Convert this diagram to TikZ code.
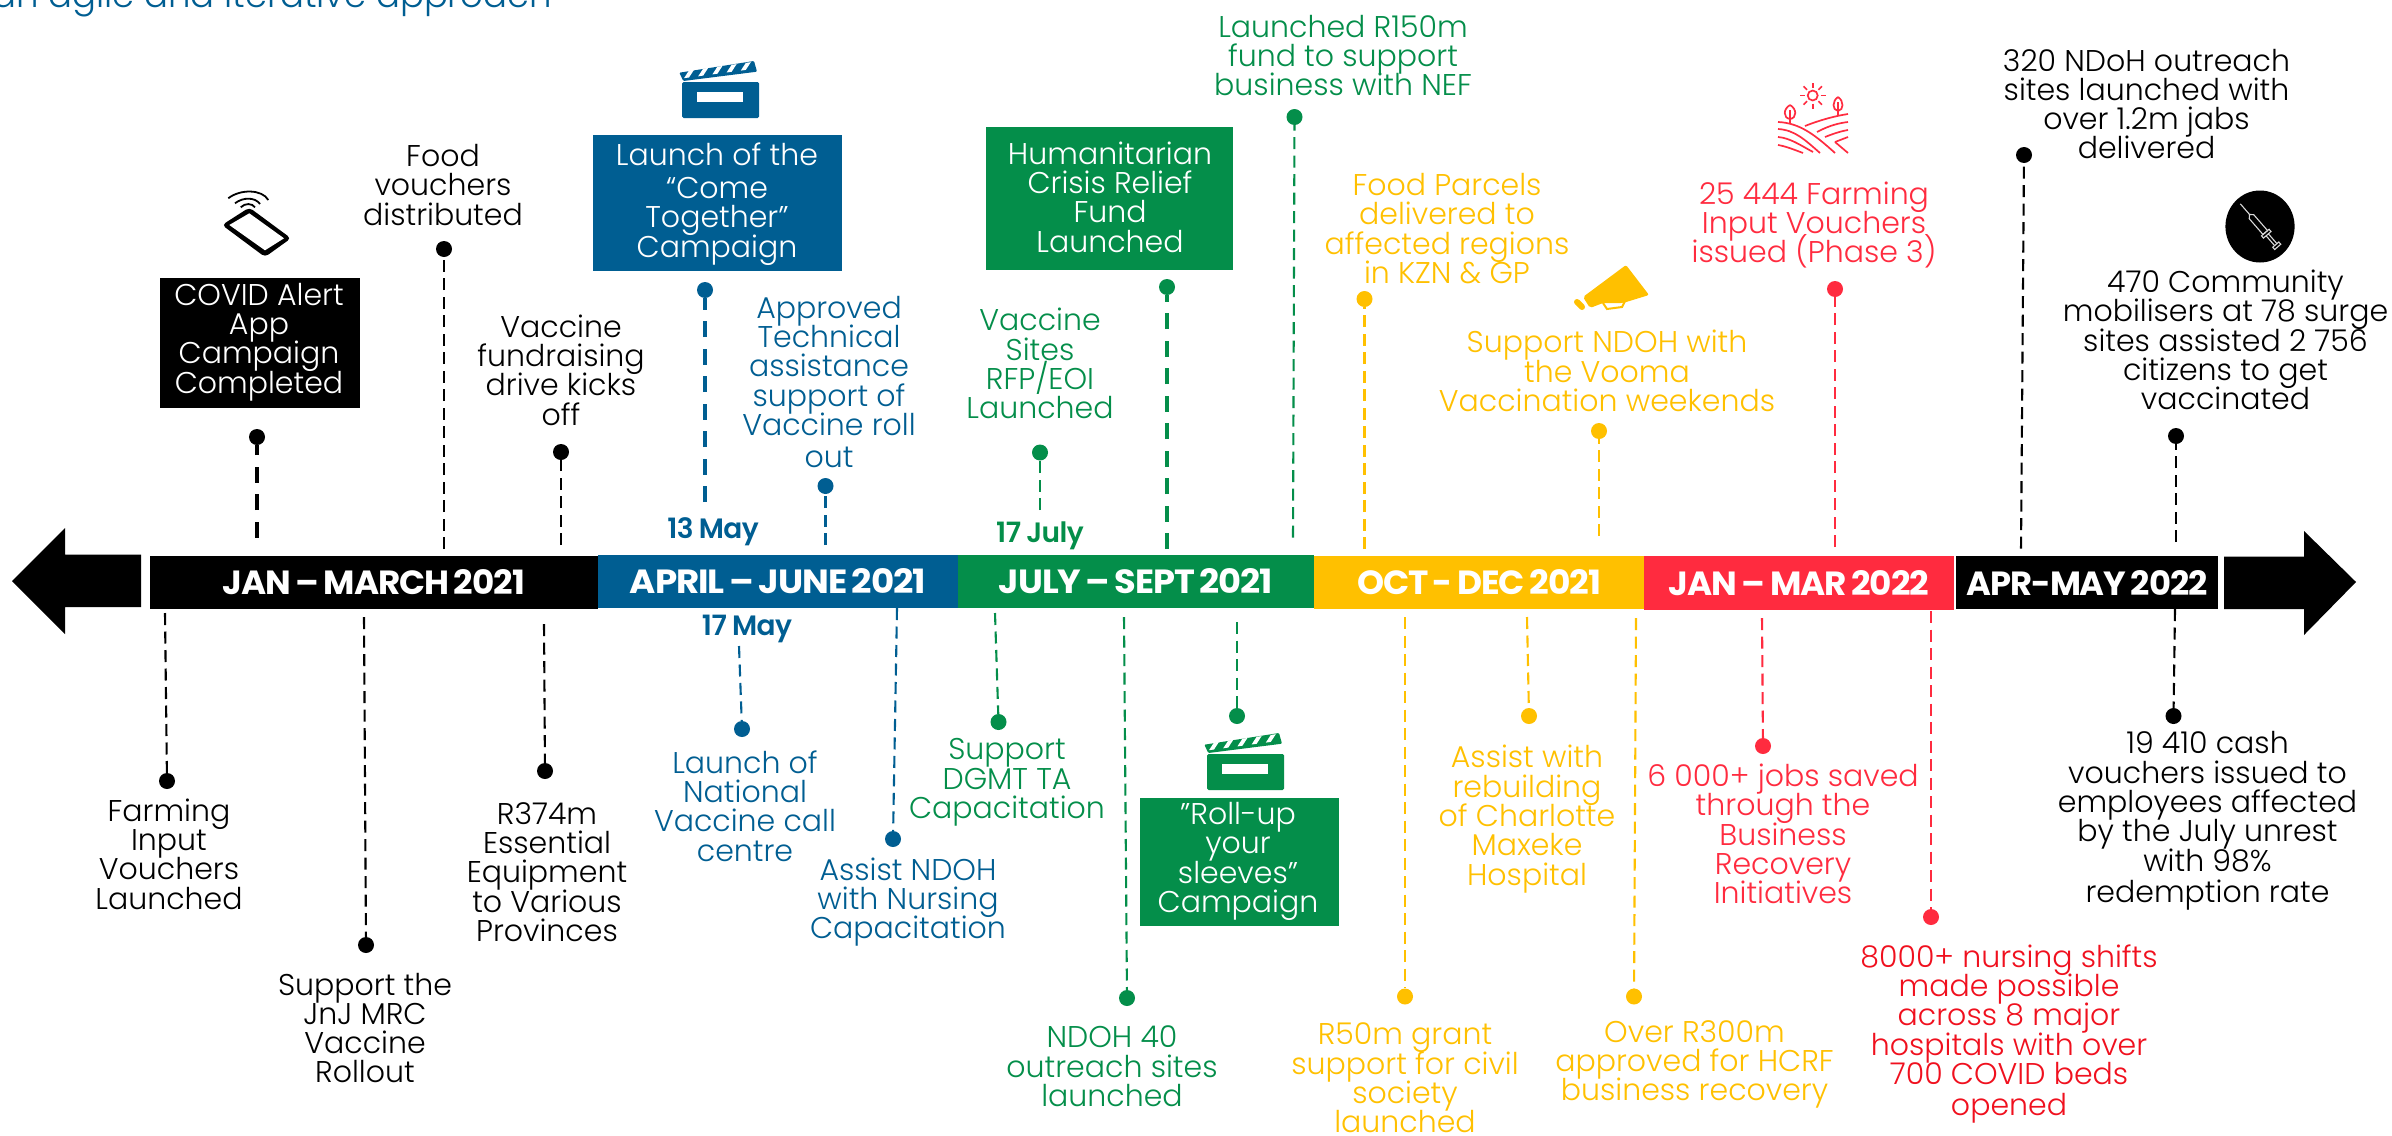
\documentclass[tikz,border=0pt]{standalone}
\usepackage{graphicx}
\usepackage{fontspec}
\setmainfont{Poppins}[UprightFont=* Light,BoldFont=* Bold]
\newfontfamily\barfont{Poppins}[UprightFont=* Bold,WordSpace=0.7,LetterSpace=-3]
\newfontfamily\datefont{Poppins}[UprightFont=* SemiBold,WordSpace=0.85,LetterSpace=-2]
\definecolor{cblue}{HTML}{005E92}
\definecolor{cgreen}{HTML}{048E4A}
\definecolor{cyellow}{HTML}{FFC000}
\definecolor{cred}{HTML}{FF2B3F}
\definecolor{cpure}{HTML}{F0101E}
\normallineskiplimit=-30pt
\lineskiplimit=-30pt
\tikzset{
  lbl/.style={align=center,inner sep=0pt,font=\fontsize{30}{29.3}\selectfont},
  boxlbl/.style={lbl,text=white},
  panel/.style={draw=none,inner sep=0pt},
  seg/.style={draw=none,inner sep=0pt,text=white,minimum height=53pt},
  pindot/.style={circle,inner sep=0pt,minimum size=16pt},
  pinthin/.style={line width=2.1pt,dash pattern=on 12pt off 6.5pt},
  pinthick/.style={line width=3.6pt,dash pattern=on 16pt off 11.5pt},
  datelbl/.style={inner sep=0pt,font=\fontsize{28}{29}\selectfont\datefont},
}
% name, x dot, y dot, x end, y end, colour, line style
\newcommand\pinline[7]{%
  \node[pindot,fill=#6] (#1) at (#2,#3) {};
  \coordinate (#1e) at (#4,#5);
  \draw[#6,#7] (#1e) -- (#1);
}
\newcommand\barlbl[2]{\resizebox{#1pt}{25pt}{\barfont #2}}
% x, y (top-left), colour
\newcommand\clapper[3]{%
  \begin{scope}[shift={(#1,#2)}]
    \fill[#3,rounded corners=1pt] (-1.7,11.7) -- (73,0) -- (76,10.7) -- (2.3,20) -- cycle;
    \foreach \i in {0,1,2,3,4}{
      \fill[white] ({8+\i*14.2},{9.5-\i*1.9}) -- ({13+\i*14.2},{8.8-\i*1.9}) -- ({8+\i*14.2},{16.5-\i*1.9}) -- ({3+\i*14.2},{17.2-\i*1.9}) -- cycle;
    }
    \fill[#3,rounded corners=1.5pt] (1,21) -- (78,21) -- (78,57) -- (1,57) -- cycle;
    \fill[white] (16.3,30.7) rectangle (62.3,40.7);
  \end{scope}
}
\begin{document}
\begin{tikzpicture}[x=1pt,y=-1pt]
\useasboundingbox (0,0) rectangle (2392,1135);
\fill[white] (0,0) rectangle (2392,1135);
\begin{scope}
\clip (0,0) rectangle (2392,1135);
\node[anchor=base east,inner sep=0pt,text=cblue,font=\fontsize{35.5}{42}\selectfont] (head) at (552,7) {an agile and iterative approach};
\end{scope}

% arrows
\fill[black] (12,581) -- (65,528) -- (65,554.5) -- (141,554.5) -- (141,607) -- (65,607) -- (65,634) -- cycle;
\fill[black] (2356,582) -- (2304,531) -- (2304,556.5) -- (2224,556.5) -- (2224,609) -- (2304,609) -- (2304,635) -- cycle;

% bar
\node[seg,fill=black,minimum width=448pt,minimum height=53pt] (b1) at (374,582.5) {\barlbl{302}{JAN – MARCH 2021}};
\node[seg,fill=cblue,minimum width=360pt] (b2) at (778,581.5) {\barlbl{296}{APRIL – JUNE 2021}};
\node[seg,fill=cgreen,minimum width=356pt] (b3) at (1136,581.5) {\barlbl{274}{JULY – SEPT 2021}};
\node[seg,fill=cyellow,minimum width=330pt] (b4) at (1479,582) {\barlbl{244}{OCT - DEC 2021}};
\node[seg,fill=cred,minimum width=310pt,minimum height=54pt] (b5) at (1799,583) {\barlbl{260}{JAN – MAR 2022}};
\node[seg,fill=black,minimum width=262pt] (b6) at (2087,582.5) {\barlbl{241}{APR-MAY 2022}};

% upper pins
\pinline{p1}{257}{437}{257}{537.5}{black}{pinthick}
\pinline{p2}{444}{249}{444}{549}{black}{pinthin}
\pinline{p3}{561}{452}{561}{545}{black}{pinthin}
\pinline{p4}{705}{290}{705}{502}{cblue}{pinthick}
\pinline{p5}{825.5}{486}{825.5}{545}{cblue}{pinthin}
\pinline{p6}{1040}{452.5}{1040}{510}{cgreen}{pinthin}
\pinline{p7}{1167}{287}{1167}{549}{cgreen}{pinthick}
\pinline{p8}{1294.5}{117}{1293}{537.5}{cgreen}{pinthin}
\pinline{p9}{1364.5}{299}{1364.5}{549}{cyellow}{pinthin}
\pinline{p10}{1599}{431}{1599}{536}{cyellow}{pinthin}
\pinline{p11}{1835}{289}{1835}{547}{cred}{pinthin}
\pinline{p12}{2024}{155}{2021}{548.5}{black}{pinthin}
\pinline{p13}{2176}{436}{2176}{542}{black}{pinthin}

% lower pins
\pinline{q1}{167}{781}{165}{613}{black}{pinthin}
\pinline{q2}{366}{945}{364}{617}{black}{pinthin}
\pinline{q3}{545}{771}{544}{624}{black}{pinthin}
\pinline{q4}{742}{729}{739}{646}{cblue}{pinthin}
\pinline{q5}{893}{839}{897}{608}{cblue}{pinthin}
\pinline{q6}{998.5}{722}{995}{613}{cgreen}{pinthin}
\pinline{q7}{1127}{998}{1124}{617}{cgreen}{pinthin}
\pinline{q8}{1237}{716}{1237}{622}{cgreen}{pinthin}
\pinline{q9}{1405}{996.5}{1405}{617}{cyellow}{pinthin}
\pinline{q10}{1529}{716}{1527}{617}{cyellow}{pinthin}
\pinline{q11}{1634}{996.5}{1636}{618}{cyellow}{pinthin}
\pinline{q12}{1763}{746}{1762}{618}{cred}{pinthin}
\pinline{q13}{1931}{917}{1931}{611}{cred}{pinthin}
\pinline{q14}{2173.5}{716}{2175}{609}{black}{pinthin}

% boxes
\node[panel,fill=black,minimum width=200pt,minimum height=130pt] (box1) at (260,343) {};
\node[panel,fill=cblue,minimum width=249pt,minimum height=136pt] (box2) at (717.5,203) {};
\node[panel,fill=cgreen,minimum width=247pt,minimum height=143pt] (box3) at (1109.5,198.5) {};
\node[panel,fill=cgreen,minimum width=199pt,minimum height=127.5pt] (box4) at (1239.5,861.75) {};

\node[boxlbl] (t1) at (259,342) {COVID Alert\\App\\Campaign\\Completed};
\node[boxlbl] (t2) at (717,204) {Launch of the\\[4pt]“Come\\Together”\\Campaign};
\node[boxlbl] (t3) at (1110,197) {Humanitarian\\Crisis Relief\\Fund\\Launched};
\node[boxlbl] (t4) at (1238,861.5) {”Roll-up\\your\\sleeves”\\Campaign};

% upper labels
\node[lbl] (u1) at (443,185) {Food\\vouchers\\distributed};
\node[lbl] (u2) at (561,370) {Vaccine\\fundraising\\drive kicks\\off};
\node[lbl,text=cblue] (u3) at (829,382) {Approved\\Technical\\assistance\\support of\\Vaccine roll\\[3pt]out};
\node[lbl,text=cgreen] (u4) at (1040,363.5) {Vaccine\\Sites\\RFP/EOI\\Launched};
\node[lbl,text=cgreen] (u5) at (1343,55.5) {Launched R150m\\fund to support\\business with NEF};
\node[lbl,text=cyellow] (u6) at (1447,228.5) {Food Parcels\\delivered to\\affected regions\\in KZN \& GP};
\node[lbl,text=cyellow] (u7) at (1607,371) {Support NDOH with\\the Vooma\\Vaccination weekends};
\node[lbl,text=cred] (u8) at (1814,225) {25 444 Farming\\Input Vouchers\\issued (Phase 3)};
\node[lbl] (u9) at (2146.5,104) {320 NDoH outreach\\sites launched with\\over 1.2m jabs\\delivered};
\node[lbl] (u10) at (2225.5,340) {470 Community\\mobilisers at 78 surge\\sites assisted 2 756\\citizens to get\\vaccinated};

% dates
\node[datelbl,text=cblue] (d1) at (713,531.5) {13 May};
\node[datelbl,text=cblue] (d2) at (747,629) {17 May};
\node[datelbl,text=cgreen] (d3) at (1040,536) {17 July};

% lower labels
\node[lbl] (v1) at (169,854) {Farming\\Input\\Vouchers\\Launched};
\node[lbl] (v2) at (365,1028) {Support the\\JnJ MRC\\Vaccine\\Rollout};
\node[lbl] (v3) at (547,872) {R374m\\Essential\\Equipment\\to Various\\Provinces};
\node[lbl,text=cblue] (v4) at (745,806) {Launch of\\National\\Vaccine call\\centre};
\node[lbl,text=cblue] (v5) at (908,902) {Assist NDOH\\with Nursing\\Capacitation};
\node[lbl,text=cgreen] (v6) at (1007,782.5) {Support\\DGMT TA\\Capacitation};
\node[lbl,text=cgreen] (v7) at (1112,1066.5) {NDOH 40\\outreach sites\\launched};
\node[lbl,text=cyellow] (v8) at (1405,1078) {R50m grant\\support for civil\\society\\launched};
\node[lbl,text=cyellow] (v9) at (1527,819) {Assist with\\rebuilding\\of Charlotte\\Maxeke\\Hospital};
\node[lbl,text=cyellow] (v10) at (1694.5,1064.5) {Over R300m\\approved for HCRF\\business recovery};
\node[lbl,text=cred] (v11) at (1783,834) {6 000+ jobs saved\\through the\\Business\\Recovery\\Initiatives};
\node[lbl,text=cpure] (v12) at (2009,1034) {8000+ nursing shifts\\made possible\\across 8 major\\hospitals with over\\700 COVID beds\\[2pt]opened};
\node[lbl] (v13) at (2207.5,821) {19 410 cash\\vouchers issued to\\employees affected\\by the July unrest\\with 98\%\\[2pt]redemption rate};

% clapper icons
\clapper{681}{61}{cblue}
\clapper{1206}{733}{cgreen}

% phone icon
\fill[black,rounded corners=4pt] (249.3,207.5) -- (291,238.3) -- (265,257) -- (222,225) -- cycle;
\fill[white] (229.3,225) -- (249.3,213.3) -- (284,238.3) -- (265,250.3) -- cycle;
\begin{scope}[black,line width=1.8pt]
  \draw (228.3,198.3) .. controls (240,189) and (262,189) .. (268.3,200);
  \draw (235,203.3) .. controls (243,197) and (255,197) .. (260,204);
  \draw (240.7,207.3) .. controls (245,203) and (252,203) .. (255,207.3);
\end{scope}

% megaphone
\fill[cyellow,rounded corners=2pt] (1583,297) -- (1626,265) -- (1649,295) -- (1623,303) -- (1603,303) -- (1590,308) -- cycle;
\draw[cyellow,line width=6pt,line cap=round] (1577,302) -- (1582,307);
\draw[cyellow,line width=2pt] (1603,303) -- (1607,309) -- (1622,307) -- (1625,301);

% farm icon
\begin{scope}[cred,line width=1.7pt]
  \draw (1812.7,95.5) circle (5pt);
  \foreach \a in {0,45,...,315}{
    \draw ({1812.7+8*cos(\a)},{95.5+8*sin(\a)}) -- ({1812.7+13*cos(\a)},{95.5+13*sin(\a)});
  }
  \draw (1790,105) .. controls (1783,109) and (1783,118) .. (1790,119) .. controls (1797,118) and (1797,109) .. (1790,105);
  \draw (1790,110) -- (1790,124);
  \draw (1838,97) .. controls (1832,101) and (1832,110) .. (1838,111) .. controls (1844,110) and (1844,101) .. (1838,97);
  \draw (1838,102) -- (1838,116);
  \draw (1778,122) .. controls (1800,123) and (1815,135) .. (1835,153);
  \draw (1778,129) .. controls (1795,130) and (1805,140) .. (1820,153);
  \draw (1778,137) .. controls (1790,138) and (1800,145) .. (1813,152);
  \draw (1778,145) .. controls (1785,146) and (1795,150) .. (1803,153);
  \draw (1805,126) .. controls (1820,120) and (1835,116) .. (1848,114);
  \draw (1817,132) .. controls (1830,125) and (1840,123) .. (1848,122);
  \draw (1825,137) .. controls (1835,133) and (1842,131) .. (1848,130);
  \draw (1835,142) -- (1848,137);
  \draw (1835,142) -- (1848,153);
\end{scope}

% syringe icon
\fill[black] (2260,226.5) ellipse (34.6pt and 36pt);
\begin{scope}[shift={(2260,226.5)},rotate=-49,white!85!black,line width=1.1pt]
  \draw (-30,0) -- (-16,0);
  \draw (-16,0) -- (-13,-3) -- (8,-3) -- (8,3) -- (-13,3) -- cycle;
  \draw (8,-5) -- (11,-5) -- (11,5) -- (8,5) -- cycle;
  \draw (11,-1.5) -- (24,-1.5) (11,1.5) -- (24,1.5);
  \draw (24,-4) -- (27,-4) -- (27,4) -- (24,4) -- cycle;
\end{scope}
\end{tikzpicture}
\end{document}
